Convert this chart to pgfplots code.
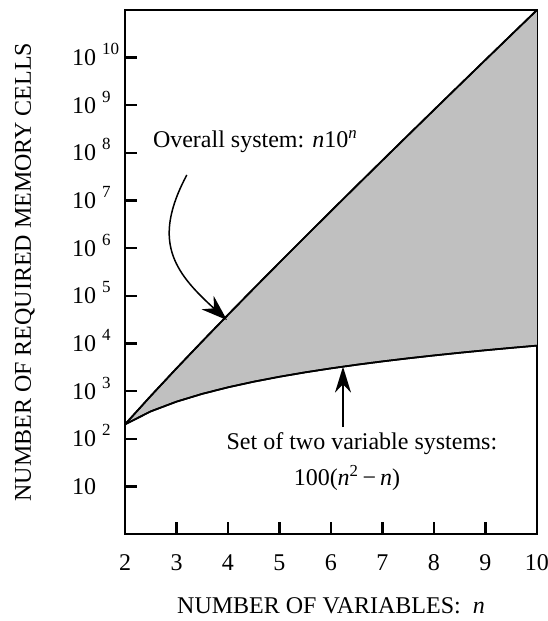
\documentclass[border=0pt]{standalone}
\usepackage{fontspec}
\setmainfont{Liberation Serif}
\usepackage{pgfplots}
\pgfplotsset{compat=1.18}
\usepgfplotslibrary{fillbetween}
\usetikzlibrary{arrows.meta}
\definecolor{fillgray}{RGB}{192,192,192}
\newcommand\fs{\fontsize{24bp}{28bp}\selectfont}
\newcommand\ex[1]{10\hspace{6bp}\raisebox{11bp}{\fontsize{17bp}{17bp}\selectfont #1}}
\pgfplotstableread{
n upper lower
2 200 200
2.5 790.6 375
3 3000 600
3.5 11068 875
4 40000 1200
4.5 142302 1575
5 500000 2000
5.5 1739253 2475
6 6000000 3000
6.5 20555000 3575
7 70000000 4200
7.5 237170000 4875
8 800000000 5600
8.5 2687900000 6375
9 9000000000 7200
9.5 30042000000 8075
10 100000000000 9000
}\datatable
\begin{document}
\begin{tikzpicture}
\begin{semilogyaxis}[
  at={(0,0)}, anchor=south west,
  scale only axis, width=412bp, height=524bp,
  xmin=2, xmax=10, ymin=1, ymax=1e11,
  axis line style={line width=2.8bp},
  tick pos=left, tick align=inside,
  major tick length=12bp,
  every tick/.style={line width=2.4bp, black},
  yminorticks=false,
  xtick={2,3,...,10},
  /pgf/number format/assume math mode=true,
  xticklabels={2,3,4,5,6,7,8,9,10},
  ytick={1e1,1e2,1e3,1e4,1e5,1e6,1e7,1e8,1e9,1e10},
  yticklabels={10,\ex{2},\ex{3},\ex{4},\ex{5},\ex{6},\ex{7},\ex{8},\ex{9},\ex{10}},
  yticklabel style={font=\fs, anchor=base west, inner sep=0pt, xshift=-53bp, yshift=-8bp},
  xticklabel style={font=\fs, anchor=base, inner sep=0pt, yshift=-36bp},
  xlabel={NUMBER OF VARIABLES:\ \ \textit{n}},
  ylabel={NUMBER OF REQUIRED MEMORY CELLS},
  every axis x label/.style={at={(rel axis cs:0.5,0)}, anchor=center, yshift=-72bp, font=\fs},
  every axis y label/.style={at={(rel axis cs:0,0.5)}, rotate=90, anchor=center, yshift=100bp, font=\fs},
  clip=false,
]
\addplot[name path=up, line width=1.7bp, black] table[x=n, y=upper] {\datatable};
\addplot[name path=lo, line width=1.7bp, black] table[x=n, y=lower] {\datatable};
\addplot[fillgray] fill between[of=up and lo];
\addplot[line width=1.7bp, black] table[x=n, y=upper] {\datatable};
\addplot[line width=1.7bp, black] table[x=n, y=lower] {\datatable};
\node[anchor=base west, font=\fs, inner sep=0pt] at (axis cs:2.54,1.27e8) {Overall system: \textit{n}10\textsuperscript{\textit{n}}};
\draw[line width=1.5bp, -{Stealth[length=26bp, width=18bp]}] (axis cs:3.2,3.44e7) to[out=-118, in=138, looseness=1.25] (axis cs:3.98,3.1e4);
\draw[line width=1.5bp, -{Stealth[length=26bp, width=16bp]}] (axis cs:6.233,176) -- (axis cs:6.233,3262);
\node[anchor=base, font=\fs, inner sep=0pt] at (axis cs:6.6,58) {Set of two variable systems:};
\node[anchor=base, font=\fs, inner sep=0pt] at (axis cs:6.31,10.2) {100(\textit{n}\textsuperscript{2}\,−\,\textit{n})};
\end{semilogyaxis}
\pgfresetboundingbox
\path (-125bp,-87bp) rectangle (423bp,534bp);
\end{tikzpicture}
\end{document}
